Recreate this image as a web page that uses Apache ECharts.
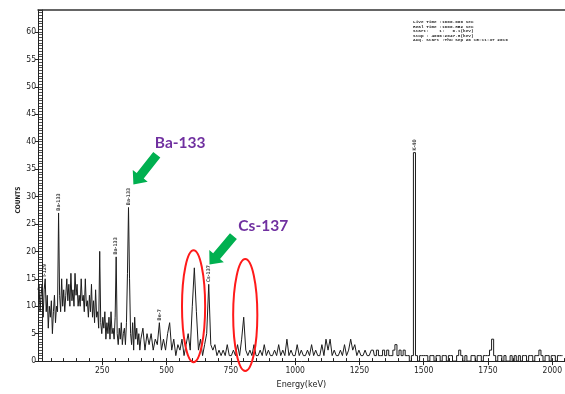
<!DOCTYPE html>
<html>
<head>
<meta charset="utf-8">
<script src="https://cdn.jsdelivr.net/npm/echarts@6/dist/echarts.min.js"></script>
<style>
  html, body { margin: 0; padding: 0; background: #fff; }
  #chart { width: 565px; height: 394px; }
</style>
</head>
<body>
<div id="chart"></div>
<script>
// Gamma spectrum: channel energies (keV) and counts per channel
const energyKeV = [
  0, 4, 8, 12, 16, 20, 24, 28, 32, 36,
  40, 44, 48, 52, 56, 60, 64, 68, 72, 76,
  80, 84, 88, 92, 96, 100, 104, 108, 112, 116,
  120, 124, 128, 132, 136, 140, 144, 148, 152, 156,
  160, 164, 168, 172, 176, 180, 184, 188, 192, 196,
  200, 204, 208, 212, 216, 220, 224, 228, 232, 236,
  240, 244, 248, 252, 256, 260, 264, 268, 272, 276,
  280, 284, 288, 292, 296, 300, 304, 308, 312, 316,
  320, 324, 328, 332, 336, 340, 344, 348, 352, 356,
  360, 364, 368, 372, 376, 380, 384, 388, 392, 396,
  400, 408, 416, 424, 432, 440, 448, 456, 464, 472,
  480, 488, 496, 504, 512, 520, 528, 536, 544, 552,
  560, 568, 576, 584, 592, 600, 608, 616, 624, 632,
  640, 648, 656, 664, 672, 680, 688, 696, 704, 712,
  720, 728, 736, 744, 752, 760, 768, 776, 784, 792,
  800, 808, 816, 824, 832, 840, 848, 856, 864, 872,
  880, 888, 896, 904, 912, 920, 928, 936, 944, 952,
  960, 968, 976, 984, 992, 1000, 1008, 1016, 1024, 1032,
  1040, 1048, 1056, 1064, 1072, 1080, 1088, 1096, 1104, 1112,
  1120, 1128, 1136, 1144, 1152, 1160, 1168, 1176, 1184, 1192,
  1200, 1208, 1216, 1224, 1232, 1240, 1248, 1256, 1264, 1272,
  1280, 1288, 1296, 1304, 1312, 1320, 1328, 1336, 1344, 1352,
  1360, 1368, 1376, 1384, 1392, 1400, 1408, 1416, 1424, 1432,
  1440, 1448, 1456, 1464, 1472, 1480, 1488, 1496, 1504, 1512,
  1520, 1528, 1536, 1544, 1552, 1560, 1568, 1576, 1584, 1592,
  1600, 1608, 1616, 1624, 1632, 1640, 1648, 1656, 1664, 1672,
  1680, 1688, 1696, 1704, 1712, 1720, 1728, 1736, 1744, 1752,
  1760, 1768, 1776, 1784, 1792, 1800, 1808, 1816, 1824, 1832,
  1840, 1848, 1856, 1864, 1872, 1880, 1888, 1896, 1904, 1912,
  1920, 1928, 1936, 1944, 1952, 1960, 1968, 1976, 1984, 1992,
  2000, 2008, 2016, 2024, 2032, 2040
];

const counts = [
  13, 14, 9, 12, 14, 8, 13, 15, 9, 12,
  6, 10, 8, 11, 5, 9, 12, 7, 10, 9,
  27, 12, 9, 15, 10, 13, 9, 12, 15, 11,
  14, 10, 16, 11, 13, 10, 16, 12, 14, 10,
  12, 10, 15, 11, 12, 9, 15, 10, 11, 8,
  12, 9, 14, 8, 11, 7, 13, 8, 9, 6,
  20, 7, 5, 8, 6, 9, 4, 7, 5, 8,
  4, 9, 5, 6, 4, 8, 19, 5, 3, 6,
  4, 7, 3, 5, 6, 3, 7, 16, 28, 15,
  5, 3, 7, 2, 8, 4, 6, 3, 5, 2,
  4, 6, 2, 5, 3, 5, 2, 4, 3, 7,
  2, 4, 2, 5, 7, 2, 4, 1, 3, 2,
  4, 1, 3, 5, 2, 10, 17, 9, 2, 4,
  1, 3, 5, 14, 3, 2, 3, 1, 2, 1,
  2, 1, 3, 1, 1, 2, 1, 3, 1, 4,
  8, 2, 1, 2, 1, 3, 1, 1, 2, 1,
  3, 1, 2, 1, 1, 2, 1, 3, 1, 2,
  1, 4, 1, 2, 1, 1, 3, 1, 2, 1,
  1, 2, 1, 3, 1, 2, 1, 1, 3, 1,
  4, 2, 4, 1, 2, 1, 1, 2, 1, 3,
  1, 2, 4, 2, 3, 1, 2, 1, 1, 2,
  1, 1, 2, 2, 1, 2, 1, 1, 2, 1,
  2, 1, 1, 2, 3, 1, 2, 1, 2, 1,
  1, 0, 1, 38, 1, 0, 1, 1, 1, 1,
  0, 1, 1, 0, 1, 1, 0, 1, 1, 0,
  1, 1, 0, 0, 1, 2, 1, 0, 1, 0,
  0, 1, 1, 0, 1, 1, 0, 1, 1, 1,
  2, 4, 1, 0, 1, 1, 0, 1, 0, 0,
  1, 0, 1, 0, 1, 0, 1, 1, 0, 1,
  1, 0, 1, 1, 2, 1, 0, 1, 1, 0,
  1, 1, 0, 1, 1, 1
];

// Identified peaks (energy of the channel carrying the tag)
const peakNames = ['I-129', 'Ba-133', 'Ba-133', 'Ba-133', 'Be-7', 'Cs-137', 'K-40'];
const peakEnergies = [28, 80, 304, 352, 472, 664, 1464];

// Axis ranges and tick spacing
const energyMax = 2048;
const countsMax = 64;
const energyTickStep = 250;
const countsTickStep = 5;

// Above this energy the trace is drawn as a channel histogram
const histogramFrom = 1296;

// Acquisition header
const infoLines = [
  'Live Time :1000.000 sec',
  'Real Time :1000.852 sec',
  'Start:    1:   0.1(keV)',
  'Stop : 4096:2047.8(keV)',
  'Acq. Start :Thu Sep 26 15:11:37 2019'
];

const spectrum = energyKeV.map((e, i) => [e, counts[i]]);
const lowPart = spectrum.filter(p => p[0] <= histogramFrom);
const highPart = spectrum.filter(p => p[0] >= histogramFrom);
const peakTags = peakEnergies.map((e, i) => ({
  value: [e, counts[energyKeV.indexOf(e)]],
  name: peakNames[i]
}));

const ink = '#222';
const narrow = "'DejaVu Sans Condensed', 'Liberation Sans Narrow', 'Liberation Sans', sans-serif";

const chart = echarts.init(document.getElementById('chart'), null, { renderer: 'canvas' });

chart.setOption({
  animation: false,
  backgroundColor: '#fff',
  grid: { left: 38, right: 0, top: 10, bottom: 22, containLabel: false },
  xAxis: [
    {
      type: 'value', position: 'bottom', min: 0, max: energyMax, interval: energyTickStep,
      axisLine: { onZero: false, lineStyle: { color: ink, width: 1 } },
      axisTick: { show: true, inside: false, length: 4, lineStyle: { color: ink } },
      axisLabel: {
        showMinLabel: false, showMaxLabel: false, margin: 5,
        fontSize: 8.5, color: ink, fontFamily: narrow,
        formatter: v => String(v)
      },
      splitLine: { show: false },
      name: 'Energy(keV)', nameLocation: 'middle', nameGap: 14,
      nameTextStyle: { fontSize: 9, color: ink, fontFamily: narrow }
    },
    {
      type: 'value', position: 'bottom', min: 0, max: energyMax, interval: 50,
      axisLine: { show: false, onZero: false },
      axisTick: { show: true, inside: true, length: 3, lineStyle: { color: ink } },
      axisLabel: { show: false },
      splitLine: { show: false }
    },
    {
      type: 'value', position: 'top', min: 0, max: energyMax,
      axisLine: { show: true, onZero: false, lineStyle: { color: '#333', width: 1.5 } },
      axisTick: { show: false },
      axisLabel: { show: false },
      splitLine: { show: false }
    }
  ],
  yAxis: [
    {
      type: 'value', position: 'left', min: 0, max: countsMax, interval: countsTickStep,
      axisLine: { show: true, onZero: false, lineStyle: { color: ink, width: 1 } },
      axisTick: { show: true, inside: false, length: 3, lineStyle: { color: ink } },
      axisLabel: { showMaxLabel: false, margin: 2, fontSize: 8.5, color: ink, fontFamily: narrow },
      splitLine: { show: false }
    },
    {
      type: 'value', position: 'left', offset: -4, min: 0, max: countsMax, interval: 0.5,
      axisLine: { show: true, onZero: false, lineStyle: { color: ink, width: 1 } },
      axisTick: { show: true, inside: false, length: 4, lineStyle: { color: ink, width: 0.8 } },
      axisLabel: { show: false },
      splitLine: { show: false }
    }
  ],
  series: [
    {
      type: 'line',
      xAxisIndex: 0, yAxisIndex: 0,
      data: lowPart,
      symbol: 'none',
      lineStyle: { color: '#1c1c1c', width: 1 },
      z: 3
    },
    {
      type: 'line',
      xAxisIndex: 0, yAxisIndex: 0,
      data: highPart,
      step: 'middle',
      symbol: 'none',
      lineStyle: { color: '#1c1c1c', width: 1 },
      z: 3
    },
    {
      type: 'scatter',
      xAxisIndex: 0, yAxisIndex: 0,
      data: peakTags,
      symbolSize: 0,
      silent: true,
      label: {
        show: true,
        formatter: p => p.name,
        position: 'top',
        distance: 2,
        rotate: 90,
        align: 'left',
        verticalAlign: 'middle',
        fontSize: 5,
        fontWeight: 'bold',
        color: '#111',
        fontFamily: narrow
      },
      z: 4
    }
  ]
});

// Annotations, placed in data coordinates
const toPx = (e, c) => chart.convertToPixel({ gridIndex: 0 }, [e, c]);

function blockArrow(tail, tip, color) {
  const dx = tip[0] - tail[0], dy = tip[1] - tail[1];
  const len = Math.hypot(dx, dy);
  const ux = dx / len, uy = dy / len;
  const nx = -uy, ny = ux;
  const shaft = 4.5, head = 9.5, headLen = 11;
  const hx = tip[0] - ux * headLen, hy = tip[1] - uy * headLen;
  return {
    type: 'polygon',
    shape: {
      points: [
        [tail[0] + nx * shaft, tail[1] + ny * shaft],
        [hx + nx * shaft, hy + ny * shaft],
        [hx + nx * head, hy + ny * head],
        [tip[0], tip[1]],
        [hx - nx * head, hy - ny * head],
        [hx - nx * shaft, hy - ny * shaft],
        [tail[0] - nx * shaft, tail[1] - ny * shaft]
      ]
    },
    style: { fill: color },
    z: 10
  };
}

function ring(centerE, centerC, halfE, halfC) {
  const c = toPx(centerE, centerC);
  const r = toPx(centerE + halfE, centerC + halfC);
  return {
    type: 'ellipse',
    shape: { cx: c[0], cy: c[1], rx: Math.abs(r[0] - c[0]), ry: Math.abs(r[1] - c[1]) },
    style: { fill: 'none', stroke: '#ff1a1a', lineWidth: 2 },
    z: 10
  };
}

function callout(text, e, c) {
  const p = toPx(e, c);
  return {
    type: 'text',
    x: p[0], y: p[1],
    style: {
      text: text, fill: '#7030a0',
      font: "bold 15.5px Lato, 'Open Sans', sans-serif",
      align: 'center', verticalAlign: 'middle'
    },
    z: 10
  };
}

const green = '#00b050';

chart.setOption({
  graphic: [
    callout('Ba-133', 553, 39.8),
    blockArrow(toPx(462, 37.6), toPx(371, 32.2), green),
    callout('Cs-137', 876, 24.6),
    blockArrow(toPx(760, 22.8), toPx(667, 17.6), green),
    ring(605, 10, 45, 10.2),
    ring(806, 8.4, 47, 10.2),
    {
      type: 'text',
      x: 18, y: 200,
      rotation: Math.PI / 2,
      style: {
        text: 'COUNTS', fill: ink,
        font: "bold 6.5px 'DejaVu Sans Condensed', sans-serif",
        align: 'center', verticalAlign: 'middle'
      }
    },
    {
      type: 'text',
      x: 413, y: 20,
      style: {
        text: infoLines.join('\n'),
        fill: '#222',
        font: "bold 4.4px 'Liberation Mono', monospace",
        lineHeight: 4.5,
        align: 'left', verticalAlign: 'top'
      }
    }
  ]
});
</script>
</body>
</html>
